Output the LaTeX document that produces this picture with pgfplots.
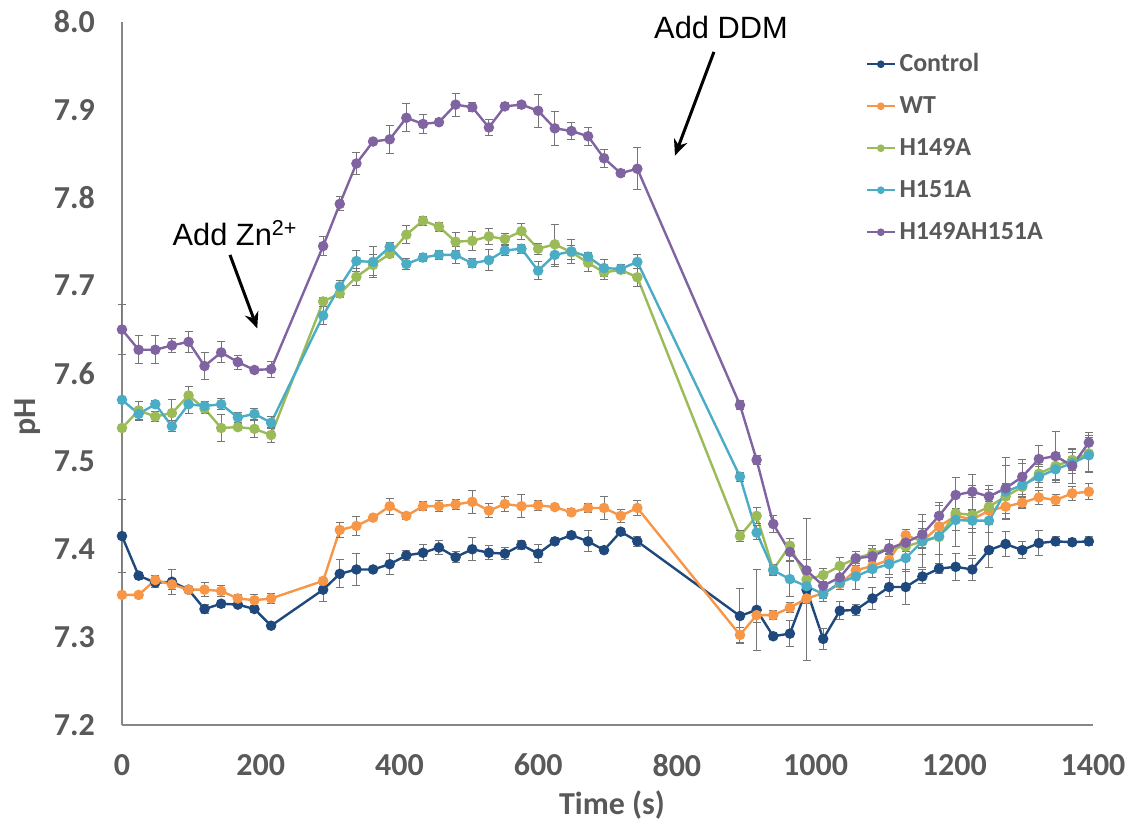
\documentclass[border=0pt]{standalone}
\usepackage{fontspec}
\setmainfont{Carlito}
\newfontfamily\arialfont{Liberation Sans}
\usepackage{pgfplots}
\usepackage{pgfplotstable}
\pgfplotsset{compat=1.18}
\usetikzlibrary{arrows.meta}

\definecolor{ctrl}{RGB}{31,73,125}
\definecolor{wt}{RGB}{247,150,70}
\definecolor{hA}{RGB}{155,187,89}
\definecolor{hB}{RGB}{75,172,198}
\definecolor{hAB}{RGB}{128,100,162}
\definecolor{txtgray}{RGB}{89,89,89}
\definecolor{axgray}{RGB}{134,134,134}
\definecolor{errgray}{RGB}{118,118,118}

% time (s), pH, error
\pgfplotstableread{
t ph e
0 7.415 0.042
24 7.370 0.004
48 7.362 0.006
72 7.363 0.014
96 7.354 0.004
119 7.332 0.005
143 7.338 0.004
167 7.337 0.003
191 7.332 0.004
215 7.313 0.003
290 7.354 0.014
314 7.372 0.016
338 7.377 0.018
362 7.377 0.003
386 7.383 0.012
410 7.393 0.006
434 7.396 0.009
457 7.402 0.008
481 7.391 0.006
505 7.400 0.013
529 7.396 0.008
552 7.395 0.007
576 7.405 0.005
600 7.395 0.010
624 7.409 0.004
648 7.416 0.004
672 7.409 0.012
695 7.399 0.004
719 7.420 0.004
743 7.409 0.006
891 7.324 0.031
915 7.331 0.046
939 7.301 0.004
963 7.304 0.015
987 7.354 0.081
1011 7.298 0.012
1035 7.330 0.010
1058 7.331 0.006
1082 7.344 0.013
1106 7.357 0.011
1130 7.357 0.020
1154 7.369 0.008
1178 7.378 0.006
1202 7.380 0.015
1226 7.377 0.012
1250 7.399 0.020
1274 7.406 0.014
1298 7.399 0.010
1322 7.407 0.014
1346 7.409 0.005
1370 7.408 0.004
1394 7.409 0.005
}\ctrltab

\pgfplotstableread{
t ph e
0 7.348 0.003
24 7.348 0.003
48 7.365 0.005
72 7.360 0.006
96 7.354 0.004
119 7.354 0.008
143 7.3525 0.006
167 7.344 0.004
191 7.342 0.007
215 7.344 0.006
290 7.364 0.004
314 7.422 0.009
338 7.4265 0.011
362 7.436 0.003
386 7.449 0.009
410 7.438 0.004
434 7.449 0.005
457 7.449 0.006
481 7.451 0.006
505 7.454 0.013
529 7.444 0.008
552 7.4515 0.008
576 7.449 0.013
600 7.450 0.006
624 7.448 0.003
648 7.442 0.004
672 7.447 0.005
695 7.447 0.013
719 7.438 0.007
743 7.447 0.009
891 7.3025 0.009
915 7.325 0.008
939 7.325 0.005
963 7.3335 0.006
987 7.344 0.006
1011 7.350 0.006
1035 7.3605 0.006
1058 7.376 0.006
1082 7.381 0.008
1106 7.388 0.006
1130 7.416 0.006
1154 7.409 0.008
1178 7.426 0.010
1202 7.438 0.008
1226 7.434 0.010
1250 7.444 0.010
1274 7.4485 0.008
1298 7.453 0.007
1322 7.459 0.008
1346 7.456 0.006
1370 7.4636 0.008
1394 7.4655 0.009
}\wttab

\pgfplotstableread{
t ph e
0 7.538 0.004
24 7.558 0.010
48 7.551 0.006
72 7.555 0.015
96 7.575 0.010
119 7.560 0.006
143 7.538 0.015
167 7.539 0.004
191 7.537 0.010
215 7.530 0.008
290 7.682 0.004
314 7.691 0.005
338 7.710 0.010
362 7.7235 0.012
386 7.736 0.004
410 7.758 0.010
434 7.774 0.005
457 7.767 0.005
481 7.750 0.010
505 7.751 0.011
529 7.756 0.009
552 7.753 0.006
576 7.762 0.009
600 7.742 0.006
624 7.747 0.023
648 7.738 0.008
672 7.726 0.010
695 7.715 0.008
719 7.718 0.004
743 7.7095 0.010
891 7.415 0.006
915 7.438 0.009
939 7.377 0.006
963 7.404 0.008
987 7.3655 0.008
1011 7.3706 0.008
1035 7.381 0.010
1058 7.3897 0.008
1082 7.3954 0.009
1106 7.401 0.010
1130 7.403 0.010
1154 7.409 0.015
1178 7.414 0.020
1202 7.441 0.020
1226 7.439 0.020
1250 7.4485 0.020
1274 7.460 0.015
1298 7.471 0.012
1322 7.486 0.010
1346 7.4948 0.015
1370 7.5016 0.012
1394 7.509 0.020
}\hAtab

\pgfplotstableread{
t ph e
0 7.570 0.004
24 7.554 0.007
48 7.565 0.004
72 7.540 0.006
96 7.565 0.010
119 7.563 0.005
143 7.565 0.006
167 7.550 0.006
191 7.554 0.006
215 7.544 0.007
290 7.666 0.010
314 7.699 0.007
338 7.728 0.012
362 7.727 0.018
386 7.744 0.005
410 7.7246 0.006
434 7.732 0.005
457 7.735 0.005
481 7.735 0.010
505 7.7254 0.005
529 7.729 0.012
552 7.740 0.006
576 7.742 0.005
600 7.717 0.010
624 7.735 0.013
648 7.739 0.014
672 7.733 0.005
695 7.720 0.010
719 7.719 0.005
743 7.727 0.008
891 7.4826 0.005
915 7.419 0.008
939 7.376 0.006
963 7.366 0.020
987 7.358 0.010
1011 7.349 0.008
1035 7.362 0.008
1058 7.369 0.015
1082 7.3775 0.010
1106 7.383 0.012
1130 7.390 0.015
1154 7.409 0.030
1178 7.415 0.035
1202 7.4333 0.030
1226 7.4325 0.040
1250 7.4325 0.035
1274 7.4655 0.030
1298 7.473 0.025
1322 7.4825 0.012
1346 7.491 0.015
1370 7.498 0.012
1394 7.507 0.020
}\hBtab

\pgfplotstableread{
t ph e
0 7.650 0.028
24 7.627 0.016
48 7.627 0.016
72 7.632 0.008
96 7.636 0.012
119 7.6085 0.0155
143 7.624 0.012
167 7.613 0.008
191 7.604 0.003
215 7.605 0.009
290 7.745 0.011
314 7.793 0.008
338 7.839 0.013
362 7.864 0.003
386 7.8665 0.016
410 7.891 0.016
434 7.884 0.011
457 7.886 0.004
481 7.906 0.013
505 7.903 0.005
529 7.880 0.009
552 7.904 0.004
576 7.906 0.004
600 7.899 0.019
624 7.879 0.019
648 7.876 0.010
672 7.870 0.010
695 7.845 0.010
719 7.828 0.004
743 7.833 0.024
891 7.5642 0.005
915 7.5016 0.005
939 7.4287 0.010
963 7.397 0.010
987 7.376 0.012
1011 7.3585 0.005
1035 7.368 0.010
1058 7.3897 0.008
1082 7.392 0.009
1106 7.401 0.010
1130 7.4075 0.010
1154 7.417 0.015
1178 7.438 0.015
1202 7.4617 0.020
1226 7.4655 0.020
1250 7.460 0.012
1274 7.4694 0.035
1298 7.4825 0.020
1322 7.5027 0.015
1346 7.506 0.028
1370 7.495 0.020
1394 7.5214 0.012
}\hABtab

\pgfplotsset{
  phline/.style={color=#1, line width=1.2pt, mark=*, mark size=2pt,
    mark options={solid, fill=#1},
    error bars/.cd, y dir=both, y explicit,
    error bar style={line width=0.5pt, color=errgray},
    error mark options={rotate=90, mark size=2pt, line width=0.5pt, color=errgray}},
}

\begin{document}
\begin{tikzpicture}
\begin{axis}[
  scale only axis,
  width=485.5pt, height=351.5pt,
  xmin=0, xmax=1400, ymin=7.2, ymax=8.0,
  axis lines*=left,
  axis line style={color=axgray, line width=0.8pt},
  xtick={0,200,...,1400},
  ytick={7.2,7.3,7.4,7.5,7.6,7.7,7.8,7.9,8.0},
  tick style={draw=none},
  clip=false,
  /pgf/number format/assume math mode=true,
  /pgf/number format/1000 sep={},
  yticklabel style={/pgf/number format/fixed, /pgf/number format/precision=1,
    /pgf/number format/fixed zerofill, xshift=-10pt},
  xticklabel style={yshift=-11pt},
  ticklabel style={font=\bfseries\fontsize{16}{19}\selectfont, text=txtgray},
  xlabel={Time (s)},
  ylabel={pH},
  xlabel style={at={(axis description cs:0.5046,-0.1138)}, anchor=center,
    font=\bfseries\fontsize{16}{19}\selectfont, text=txtgray},
  ylabel style={at={(axis description cs:-0.0968,0.438)}, anchor=center,
    font=\bfseries\fontsize{16}{19}\selectfont, text=txtgray},
  legend style={at={(axis description cs:0.766,0.959)}, anchor=north west,
    draw=none, fill=none, inner sep=0pt, row sep=8pt,
    font=\bfseries\fontsize{13}{15}\selectfont, text=txtgray,
    nodes={inner sep=0pt, text height=10pt, text depth=3pt, anchor=west}},
  legend cell align=left,
  /tikz/every odd column/.append style={column sep=2pt},
  legend image code/.code={\draw[mark repeat=2, mark phase=2, #1, mark size=1.4pt, line width=1pt]
    plot coordinates {(0cm,0cm) (0.24cm,0cm) (0.48cm,0cm)};},
]
\addplot[phline=ctrl] table[x=t, y=ph, y error=e] {\ctrltab};
\addlegendentry{Control}
\addplot[phline=wt] table[x=t, y=ph, y error=e] {\wttab};
\addlegendentry{WT}
\addplot[phline=hA] table[x=t, y=ph, y error=e] {\hAtab};
\addlegendentry{H149A}
\addplot[phline=hB] table[x=t, y=ph, y error=e] {\hBtab};
\addlegendentry{H151A}
\addplot[phline=hAB] table[x=t, y=ph, y error=e] {\hABtab};
\addlegendentry{H149AH151A}

% annotations
\node[font=\arialfont\fontsize{15.4}{18}\selectfont] at (axis cs:163,7.760) {Add Zn\textsuperscript{2+}};
\draw[line width=1.5pt, -{Stealth[length=8pt, width=7pt]}] (axis cs:155.7,7.735) -- (axis cs:195,7.6514);
\node[font=\arialfont\fontsize{15.4}{18}\selectfont] at (axis cs:863.6,7.994) {Add DDM};
\draw[line width=1.5pt, -{Stealth[length=8pt, width=7pt]}] (axis cs:853.5,7.966) -- (axis cs:797.3,7.848);
\end{axis}
\pgfresetboundingbox
\path[use as bounding box] (-61pt,-50.5pt) rectangle (505pt,362.5pt);
\end{tikzpicture}
\end{document}
